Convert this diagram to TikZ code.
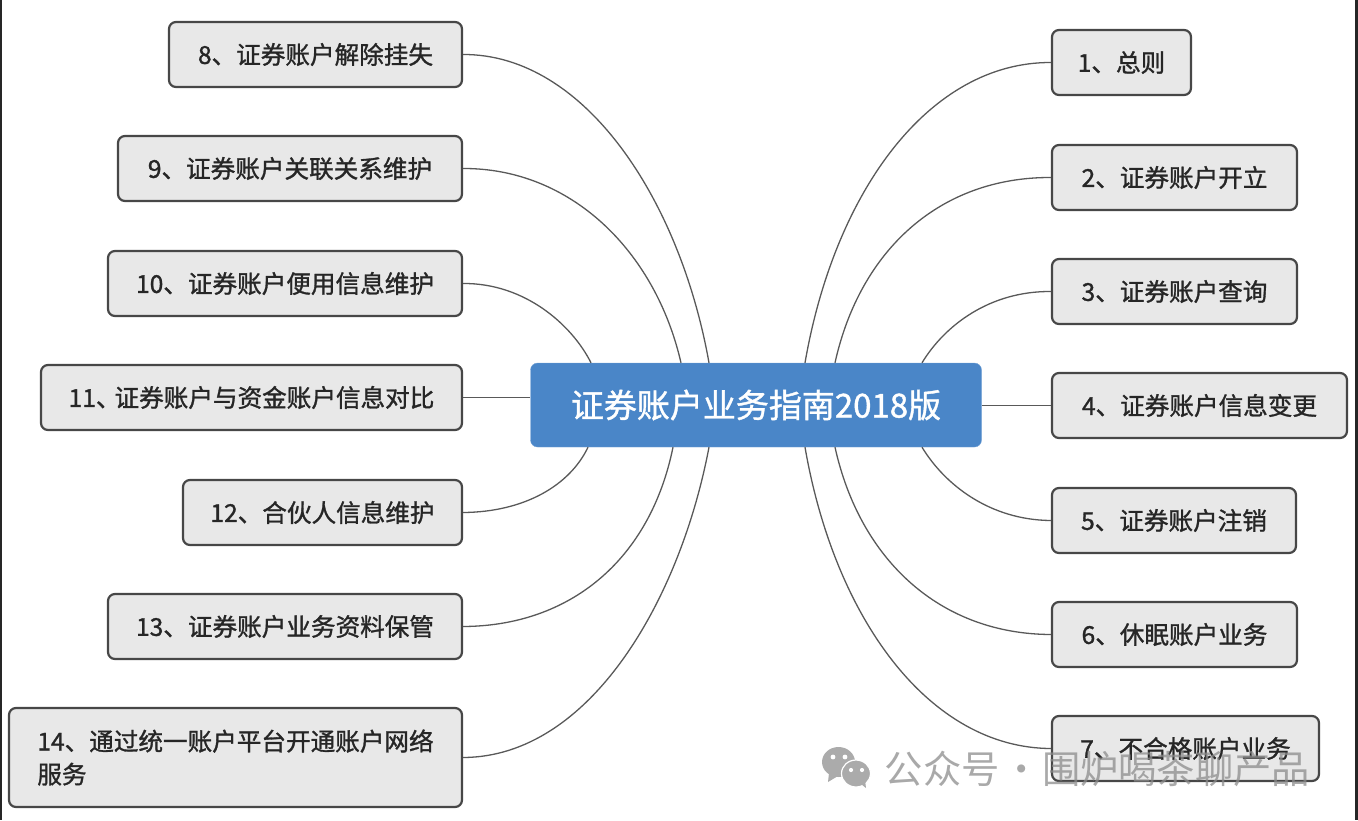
\documentclass[tikz,border=0pt]{standalone}
\usepackage{fontspec}
\setmainfont{Noto Sans CJK SC}[FakeBold=1.2]
\newfontfamily\markfont{Noto Sans CJK SC}
\usetikzlibrary{calc}

\begin{document}
\begin{tikzpicture}[
        x=1pt, y=-1pt,
        every node/.style={font=\fontsize{24.6}{33}\selectfont},
        box/.style={draw=black!72, line width=2.2pt, fill=black!9, text=black!85, rounded corners=7pt, minimum height=65pt, inner xsep=0pt, inner ysep=0pt, align=left},
        root/.style={fill=rootblue, draw=rootblue!75!white, rounded corners=7pt, minimum width=451pt, minimum height=84pt, text=white, font=\fontsize{33}{40}\selectfont},
        link/.style={draw=black!65, line width=1.3pt},
        mark_text/.style={text=black!45, opacity=0.75, font=\markfont\fontsize{38.3}{40}\selectfont}
    ]
        \definecolor{rootblue}{HTML}{4A86C8}
        \useasboundingbox (0,0) rectangle (1358,820);
        % --- Bordes de la captura ---
        \fill[black!85] (0,0) rectangle (1.5,820);
        \fill[black!85] (1355,0) rectangle (1358,820);

        % --- Nodo central ---
        \node[root] (root) at (756,405) {证券账户业务指南2018版};

        % --- Ramas de la derecha ---
        \node[box, minimum width=139pt] (n1) at (1121.5,62.5) {1、总则};
        \node[box, minimum width=245pt] (n2) at (1174.5,177.5) {2、证券账户开立};
        \node[box, minimum width=245pt] (n3) at (1174.5,291.5) {3、证券账户查询};
        \node[box, minimum width=295pt] (n4) at (1199.5,405.5) {4、证券账户信息变更};
        \node[box, minimum width=244pt] (n5) at (1174,520.5) {5、证券账户注销};
        \node[box, minimum width=245pt] (n6) at (1174.5,634.5) {6、休眠账户业务};
        \node[box, minimum width=267pt] (n7) at (1185.5,748.5) {7、不合格账户业务};

        % --- Ramas de la izquierda ---
        \node[box, minimum width=293pt] (n8) at (315.5,54.5) {8、证券账户解除挂失};
        \node[box, minimum width=344pt] (n9) at (290,168.5) {9、证券账户关联关系维护};
        \node[box, minimum width=354pt] (n10) at (285,283.5) {10、证券账户便用信息维护};
        \node[box, minimum width=421pt] (n11) at (251.5,397.5) {11、\kern-6pt 证券账户与资金账户信息对比};
        \node[box, minimum width=279pt] (n12) at (322.5,512.5) {12、合伙人信息维护};
        \node[box, minimum width=354pt] (n13) at (285,626.5) {13、证券账户业务资料保管};
        \node[box, minimum width=453pt, minimum height=99pt] (n14) at (235.5,757.5) {14、通过统一账户平台开通账户网络\\服务};

        % --- Puntos de llegada sobre el nodo central ---
        \coordinate (top1) at ($(root.north)+(49,0)$);
        \coordinate (top2) at ($(root.north)+(79,0)$);
        \coordinate (top3) at ($(root.north)+(166,0)$);
        \coordinate (top8) at ($(root.north)+(-47,0)$);
        \coordinate (top9) at ($(root.north)+(-75,0)$);
        \coordinate (top10) at ($(root.north)+(-165,0)$);
        \coordinate (bot5) at ($(root.south)+(166,0)$);
        \coordinate (bot6) at ($(root.south)+(79,0)$);
        \coordinate (bot7) at ($(root.south)+(49,0)$);
        \coordinate (bot12) at ($(root.south)+(-168,0)$);
        \coordinate (bot13) at ($(root.south)+(-83,0)$);
        \coordinate (bot14) at ($(root.south)+(-47,0)$);
        \coordinate (side11) at (root.west |- n11.east);

        % --- Conexiones ---
        \draw[link] (n1.west) .. controls (930,62) and (835,190) .. (top1);
        \draw[link] (n2.west) .. controls (940,177) and (860,250) .. (top2);
        \draw[link] (n3.west) .. controls (990,291) and (945,325) .. (top3);
        \draw[link] (n4.west) -- (root.east |- n4.west);
        \draw[link] (n5.west) .. controls (990,520) and (945,485) .. (bot5);
        \draw[link] (n6.west) .. controls (940,634) and (860,560) .. (bot6);
        \draw[link] (n7.west) .. controls (930,748) and (835,620) .. (bot7);
        \draw[link] (n8.east) .. controls (585,54) and (680,200) .. (top8);
        \draw[link] (n9.east) .. controls (570,168) and (655,250) .. (top9);
        \draw[link] (n10.east) .. controls (525,283) and (572,325) .. (top10);
        \draw[link] (n11.east) -- (side11);
        \draw[link] (n12.east) .. controls (525,512) and (570,485) .. (bot12);
        \draw[link] (n13.east) .. controls (570,626) and (650,560) .. (bot13);
        \draw[link] (n14.east) .. controls (590,757) and (680,600) .. (bot14);

        % --- Marca de agua ---
        \fill[black!33] (838.5,762) ellipse (16.5pt and 15pt);
        \fill[black!33] (829,773) -- (828,782) -- (838,776) -- cycle;
        \fill[black!33, draw=white, line width=1.2pt] (856,773.5) ellipse (14.5pt and 13.5pt);
        \fill[black!33] (861,784) -- (866,788) -- (865,780) -- cycle;
        \fill[white] (833,757) circle (2.4pt) (845,757) circle (2.4pt);
        \fill[white] (851,770) circle (2.1pt) (862,770) circle (2.1pt);
        \node[mark_text, anchor=west, inner sep=0pt] (mark) at (884.5,769) {公众号\kern-6pt{} · \kern-7pt 围炉喝茶聊产品};
\end{tikzpicture}
\end{document}
